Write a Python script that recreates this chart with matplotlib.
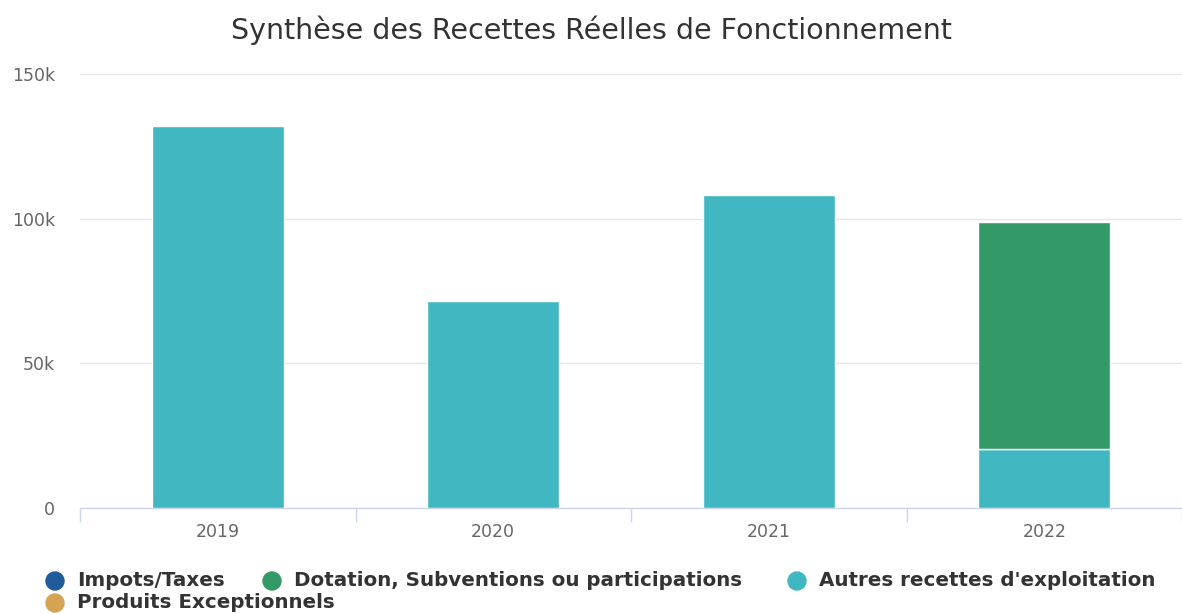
import matplotlib
matplotlib.use("Agg")
import matplotlib.pyplot as plt
import numpy as np
from matplotlib.ticker import FuncFormatter

plt.rcParams['font.family'] = ['DejaVu Sans']

years = ["2019", "2020", "2021", "2022"]
impots = [0, 0, 0, 0]
dotation = [0, 0, 0, 78400]
autres = [132000, 71500, 108200, 20400]
produits = [0, 0, 0, 0]

colors = {"Impots/Taxes": "#1f5b98",
          "Dotation, Subventions ou participations": "#339966",
          "Autres recettes d'exploitation": "#41b8c1",
          "Produits Exceptionnels": "#d4a452"}

W, H = 1182, 614
fig = plt.figure(figsize=(W/100, H/100), dpi=100)
ax = fig.add_axes([80/W, (H-508)/H, 1102/W, 434/H])

x = np.arange(len(years))
bw = 0.478
bottom = np.zeros(len(years))
# stacking bottom to top: Produits, Autres, Dotation, Impots
for name, vals in [("Produits Exceptionnels", produits),
                   ("Autres recettes d'exploitation", autres),
                   ("Dotation, Subventions ou participations", dotation),
                   ("Impots/Taxes", impots)]:
    v = np.array(vals, dtype=float)
    mask = v > 0
    ax.bar(x[mask], v[mask], bw, bottom=bottom[mask], color=colors[name],
           edgecolor="white", linewidth=1.0, zorder=3)
    bottom += v

ax.set_ylim(0, 150000)
ax.set_xlim(-0.5, -0.5 + 1102/277.5)
ax.set_yticks([0, 50000, 100000, 150000])
ax.yaxis.set_major_formatter(FuncFormatter(lambda v, p: "0" if v == 0 else f"{int(v/1000)}k"))
ax.grid(axis="y", color="#e6e6e6", linewidth=1, zorder=0)
for s in ["top", "right", "left"]:
    ax.spines[s].set_visible(False)
ax.spines["bottom"].set_color("#ccd6eb")
ax.spines["bottom"].set_linewidth(1)
ax.tick_params(axis="y", length=0, labelsize=12.5, labelcolor="#666666", pad=18)
ax.set_xticks(x)
ax.set_xticklabels(years)
ax.tick_params(axis="x", length=0, labelsize=12.5, labelcolor="#666666", pad=11)
ax.set_xticks(np.arange(-0.5, 3.6, 1.0), minor=True)
ax.tick_params(axis="x", which="minor", length=10, color="#ccd6eb", width=1)

fig.text(0.5, (H-30)/H, "Synthèse des Recettes Réelles de Fonctionnement",
         ha="center", va="center", fontsize=20.5, color="#333333")

# legend
leg_items = [(55, 581, "Impots/Taxes"),
             (272, 581, "Dotation, Subventions ou participations"),
             (797, 581, "Autres recettes d'exploitation"),
             (55, 603, "Produits Exceptionnels")]
for px, py, name in leg_items:
    fig.patches.append(matplotlib.patches.Ellipse((px/W, (H-py)/H), 18/W, 18/H,
                       transform=fig.transFigure, color=colors[name]))
    fig.text((px+22)/W, (H-py)/H, name, ha="left", va="center",
             fontsize=14.3, fontweight="bold", color="#333333")

fig.savefig("out.png", dpi=100)
